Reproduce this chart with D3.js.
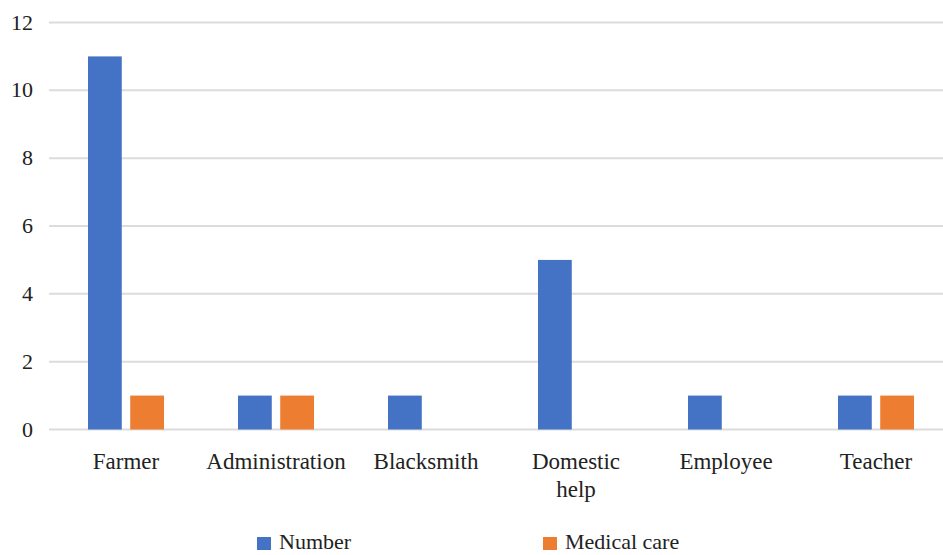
<!DOCTYPE html>
<html>
<head>
<meta charset="utf-8">
<script src="https://cdn.jsdelivr.net/npm/d3@7"></script>
<style>
  body { margin: 0; background: #fff; }
  svg { display: block; }
</style>
</head>
<body>
<svg id="chart" width="943" height="555"></svg>
<script>
// data
const categories = ["Farmer", "Administration", "Blacksmith", "Domestic help", "Employee", "Teacher"];
const seriesNames = ["Number", "Medical care"];
const numberValues = [11, 1, 1, 5, 1, 1];
const medicalValues = [1, 1, 0, 0, 0, 1];
const yTicks = [0, 2, 4, 6, 8, 10, 12];
const colors = ["#4472C4", "#ED7D31"];

const fontFamily = "'Liberation Serif', 'Times New Roman', 'DejaVu Serif', serif";

const svg = d3.select("#chart")
    .attr("font-family", fontFamily)
    .style("font-family", fontFamily);

const x0 = d3.scaleBand().domain(categories).range([51, 951]);
const x1 = d3.scaleBand().domain(seriesNames)
    .range([x0.bandwidth() / 2 - 38, x0.bandwidth() / 2 + 38])
    .paddingInner(0.2);
const y = d3.scaleLinear().domain([0, 12]).range([429.5, 22.5]);

// gridlines
svg.append("g")
    .selectAll("line")
    .data(yTicks)
    .enter()
    .append("line")
    .attr("x1", 49)
    .attr("x2", 943)
    .attr("y1", d => y(d))
    .attr("y2", d => y(d))
    .attr("stroke", "#dcdcdc")
    .attr("stroke-width", 2);

// y tick labels
svg.append("g")
    .selectAll("text")
    .data(yTicks)
    .enter()
    .append("text")
    .attr("x", 33)
    .attr("y", d => y(d) + 7)
    .attr("text-anchor", "end")
    .attr("fill", "#222")
    .style("font-size", "22px")
    .text(d => d);

// bars
const rows = categories.map((c, i) => ({ cat: c, vals: [numberValues[i], medicalValues[i]] }));

const groups = svg.append("g")
    .selectAll("g")
    .data(rows)
    .enter()
    .append("g")
    .attr("transform", d => `translate(${x0(d.cat)},0)`);

groups.selectAll("rect")
    .data(d => d.vals.map((v, j) => ({ name: seriesNames[j], v: v, j: j })))
    .enter()
    .filter(d => d.v > 0)
    .append("rect")
    .attr("x", d => x1(d.name))
    .attr("width", x1.bandwidth())
    .attr("y", d => y(d.v))
    .attr("height", d => y(0) - y(d.v))
    .attr("fill", d => colors[d.j]);

// x labels (wrap two-word "Domestic help")
const xl = svg.append("g")
    .selectAll("text")
    .data(categories)
    .enter()
    .append("text")
    .attr("text-anchor", "middle")
    .attr("y", 469)
    .attr("fill", "#222")
    .style("font-size", "23px");

xl.each(function(d) {
    const t = d3.select(this);
    const cx = x0(d) + x0.bandwidth() / 2;
    const words = d === "Domestic help" ? d.split(" ") : [d];
    words.forEach((w, i) => {
        t.append("tspan")
            .attr("x", cx)
            .attr("dy", i === 0 ? 0 : 28)
            .text(w);
    });
});

// legend
const legendX = [257, 543];
const legend = svg.append("g")
    .selectAll("g")
    .data(seriesNames)
    .enter()
    .append("g")
    .attr("transform", (d, i) => `translate(${legendX[i]},537)`);

legend.append("rect")
    .attr("width", 14)
    .attr("height", 13)
    .attr("fill", (d, i) => colors[i]);

legend.append("text")
    .attr("x", 22)
    .attr("y", 12)
    .attr("fill", "#222")
    .style("font-size", "22px")
    .text(d => d);
</script>
</body>
</html>
